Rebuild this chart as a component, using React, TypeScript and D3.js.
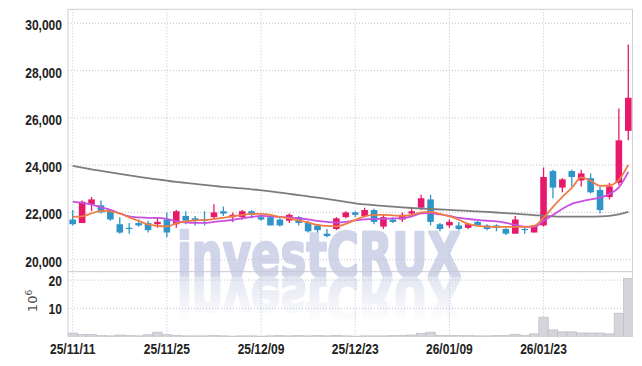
import React from 'react';
import * as d3 from 'd3';

const dates = [
  "25/11/11","25/11/12","25/11/13","25/11/14","25/11/17","25/11/18","25/11/19","25/11/20","25/11/21","25/11/24",
  "25/11/25","25/11/26","25/11/27","25/11/28","25/12/01","25/12/02","25/12/03","25/12/04","25/12/05","25/12/08",
  "25/12/09","25/12/10","25/12/11","25/12/12","25/12/15","25/12/16","25/12/17","25/12/18","25/12/19","25/12/22",
  "25/12/23","25/12/24","25/12/26","25/12/29","25/12/30","26/01/02","26/01/05","26/01/06","26/01/07","26/01/08",
  "26/01/09","26/01/12","26/01/13","26/01/14","26/01/15","26/01/16","26/01/19","26/01/20","26/01/21","26/01/22",
  "26/01/23","26/01/26","26/01/27","26/01/28","26/01/29","26/01/30","26/02/02","26/02/03","26/02/04","26/02/05"
];

const open = [
  21700,21550,22350,22300,22100,21500,21350,21550,21550,21500,
  21700,21500,21850,21750,21700,21800,22050,21800,21800,22050,
  21800,21800,21700,21650,21800,21550,21450,21100,21300,21800,
  22000,21850,22100,21400,21700,21700,21950,22200,22550,21500,
  21450,21450,21350,21600,21450,21450,21300,21100,21300,21150,
  21450,23750,23050,23750,23350,23450,22950,22650,23250,25450
];
const high = [
  22100,22500,22650,22500,22100,21800,21550,21700,21650,21800,
  22000,22100,22050,21850,22050,22350,22250,22000,22100,22100,
  21900,21850,21750,21950,21850,21650,21500,21300,21800,22050,
  22050,22200,22150,21900,21800,22000,22200,22750,22750,21550,
  21700,21600,21550,21650,21500,21500,21350,21850,21400,21450,
  23900,23800,23450,23800,23800,23650,23100,23250,26400,29100
];
const low = [
  21450,21550,22050,21950,21650,21100,21100,21400,21150,21350,
  20950,21350,21500,21450,21450,21700,21850,21600,21700,21750,
  21650,21450,21400,21550,21450,21150,21150,20950,21250,21750,
  21800,21800,21500,21300,21550,21600,21850,22100,21450,21200,
  21350,21250,21300,21400,21250,21200,21050,21100,21100,21150,
  21400,22600,22850,23100,23100,22800,21950,22550,23150,25050
];
const close = [
  21500,22450,22550,22000,21700,21150,21300,21450,21250,21600,
  21150,22050,21650,21650,21650,22000,21950,21900,22050,21900,
  21700,21450,21450,21900,21550,21200,21250,21000,21750,22000,
  21900,22100,21600,21800,21600,21900,22050,22600,21600,21300,
  21600,21300,21500,21450,21300,21350,21100,21700,21250,21450,
  23500,23050,23400,23500,23650,22850,22100,23100,25050,26850
];
// volume in millions of shares
const volume = [
  1.3,0.8,0.8,0.4,0.3,0.6,0.4,0.3,0.7,1.6,
  0.7,0.5,0.3,0.3,0.3,0.5,0.3,0.2,0.3,0.3,
  0.2,0.3,0.4,0.3,0.4,0.3,0.4,0.3,0.5,0.3,
  0.2,0.3,0.3,0.3,0.4,0.5,0.6,1.2,1.6,0.5,
  0.4,0.4,0.4,0.3,0.3,0.4,0.4,0.85,0.5,1.0,
  6.9,2.4,1.7,1.7,1.3,1.3,1.3,1.0,8.3,20.6
];
const maShort = [
  21809,21830,21957,22063,22042,21957,21788,21640,21491,21428,
  21407,21534,21619,21661,21682,21724,21767,21830,21894,21936,
  21936,21894,21809,21746,21661,21576,21470,21428,21407,21513,
  21682,21830,21894,21894,21873,21852,21894,22000,22021,21936,
  21830,21691,21513,21428,21398,21385,21385,21385,21385,21428,
  21767,22233,22657,23038,23483,23334,23123,23144,23377,24012
];
const maMid = [
  22457,22402,22339,22212,22106,21957,21830,21788,21767,21767,
  21724,21619,21576,21555,21555,21597,21640,21682,21746,21809,
  21852,21830,21809,21788,21754,21703,21640,21597,21568,21597,
  21661,21703,21724,21724,21746,21754,21830,21957,21966,21915,
  21852,21767,21724,21682,21648,21619,21555,21470,21394,21385,
  21640,21894,22148,22360,22466,22551,22623,22784,23059,23716
];
const maLong = [
  23970,23894,23822,23758,23695,23631,23568,23504,23449,23398,
  23343,23292,23250,23207,23165,23123,23080,23046,23013,22979,
  22936,22890,22839,22784,22733,22678,22623,22572,22508,22445,
  22381,22339,22305,22275,22241,22212,22186,22165,22144,22123,
  22106,22085,22063,22042,22021,21996,21970,21945,21915,21885,
  21852,21830,21822,21822,21822,21822,21830,21852,21915,22021
];
const priceTicks = [20000, 22000, 24000, 26000, 28000, 30000];
const volTicks = [10, 20];
const dateTickIdx = [0, 10, 20, 30, 40, 50];

const W = 642, H = 366;
const L = 68, R = 632.5, TOP = 9.3, SEP = 271.7, VBOT = 336.7;

const UP = '#e6196a';
const DOWN = '#2f95c9';
const TICKFONT = "'Liberation Sans','Arial',sans-serif";
const SX = 0.86;

export default function App() {
  const n = dates.length;
  const x = d3.scaleBand<number>().domain(d3.range(n)).range([L, R + 0.5]).padding(0);
  const cx = (i: number) => (x(i) as number) + x.bandwidth() / 2;
  const y = d3.scaleLinear().domain([20000, 30000]).range([259.7, 23.3]);
  const yv = d3.scaleLinear().domain([0, 20]).range([VBOT, 280.1]);
  const bw = x.bandwidth() * 0.7;

  const line = (vals: number[]) =>
    d3.line<number>().x((_, i) => cx(i)).y(v => y(v)).curve(d3.curveMonotoneX)(vals) || '';

  const wmBase = 276;

  return (
    <div style={{ position: 'absolute', left: 0, top: 0 }}>
      <svg width={W} height={H} style={{ display: 'block', background: '#fff' }}>
        <defs>
          <linearGradient id="refl" x1="0" y1="0" x2="0" y2="1">
            <stop offset="0" stopColor="#fff" stopOpacity="0.1" />
            <stop offset="0.9" stopColor="#fff" stopOpacity="1" />
          </linearGradient>
          <clipPath id="plotclip">
            <rect x={L} y={TOP} width={R - L} height={VBOT - TOP} />
          </clipPath>
        </defs>

        {/* watermark */}
        <g>
          <text x={177} y={wmBase} fontFamily="'DejaVu Sans',sans-serif" fontWeight="bold" fontSize={60}
            fill="#d0d5e9" stroke="#d0d5e9" strokeWidth={2.5} strokeLinejoin="round"
            textLength={284} lengthAdjust="spacingAndGlyphs">investCRUX</text>
          <g transform={`translate(0, ${2 * wmBase + 2}) scale(1,-1)`}>
            <text x={177} y={wmBase} fontFamily="'DejaVu Sans',sans-serif" fontWeight="bold" fontSize={60}
              fill="#e0e3f0" stroke="#e0e3f0" strokeWidth={2.5} strokeLinejoin="round"
              textLength={284} lengthAdjust="spacingAndGlyphs">investCRUX</text>
          </g>
          <rect x={170} y={wmBase + 1} width={300} height={50} fill="url(#refl)" />
        </g>

        {/* grid */}
        {priceTicks.map(t => (
          <line key={'pg' + t} x1={L} x2={R} y1={y(t)} y2={y(t)} stroke="#c4c4cc" strokeWidth={1} strokeDasharray="1,2" />
        ))}
        {volTicks.map(t => (
          <line key={'vg' + t} x1={L} x2={R} y1={yv(t)} y2={yv(t)} stroke="#c4c4cc" strokeWidth={1} strokeDasharray="1,2" />
        ))}
        {dateTickIdx.map(i => (
          <line key={'xg' + i} x1={cx(i)} x2={cx(i)} y1={TOP} y2={VBOT} stroke="#bcc4de" strokeWidth={1} strokeDasharray="1,2" />
        ))}

        {/* volume */}
        <g clipPath="url(#plotclip)">
          {volume.map((v, i) => (
            <rect key={'v' + i} x={x(i) as number} y={yv(v)} width={x.bandwidth()} height={VBOT - yv(v)}
              fill="#d4d4da" stroke="#bdbdc4" strokeWidth={0.7} />
          ))}
        </g>

        {/* frame */}
        <line x1={L} x2={R} y1={TOP} y2={TOP} stroke="#cfcfd6" strokeWidth={1} />
        <line x1={L} x2={L} y1={TOP} y2={VBOT} stroke="#cfcfd6" strokeWidth={1} />
        <line x1={R} x2={R} y1={TOP} y2={VBOT} stroke="#cfcfd6" strokeWidth={1} />
        <line x1={L} x2={R} y1={SEP} y2={SEP} stroke="#c8c8d0" strokeWidth={1} />

        {/* candles */}
        {dates.map((_, i) => {
          const up = close[i] >= open[i];
          const col = up ? UP : DOWN;
          const top = y(Math.max(open[i], close[i]));
          const bot = y(Math.min(open[i], close[i]));
          return (
            <g key={'c' + i}>
              <line x1={cx(i)} x2={cx(i)} y1={y(high[i])} y2={y(low[i])} stroke={col} strokeWidth={1.3} />
              <rect x={cx(i) - bw / 2} y={top} width={bw} height={Math.max(1.2, bot - top)} fill={col} />
            </g>
          );
        })}

        {/* moving averages */}
        <path d={line(maLong)} fill="none" stroke="#7d7d7d" strokeWidth={1.8} />
        <path d={line(maMid)} fill="none" stroke="#c84fe0" strokeWidth={1.8} />
        <path d={line(maShort)} fill="none" stroke="#ef7d46" strokeWidth={1.8} />

        {/* axis labels */}
        {priceTicks.map(t => (
          <text key={'pl' + t} transform={`translate(62,${y(t) + 7}) scale(${SX},1)`} textAnchor="end"
            fontFamily={TICKFONT} fontWeight="bold" fontSize={14} fill="#222">{d3.format(',')(t)}</text>
        ))}
        {volTicks.map(t => (
          <text key={'vl' + t} transform={`translate(62,${yv(t) + 6}) scale(${SX},1)`} textAnchor="end"
            fontFamily={TICKFONT} fontWeight="bold" fontSize={14} fill="#222">{t}</text>
        ))}
        <text transform="translate(37,301) rotate(-90)" textAnchor="middle" fontFamily="'DejaVu Sans',sans-serif"
          fontSize={13} fill="#555">10<tspan dy={-5} fontSize={9}>6</tspan></text>
        {dateTickIdx.map(i => (
          <text key={'dl' + i} transform={`translate(${cx(i)},353.5) scale(${SX},1)`} textAnchor="middle"
            fontFamily={TICKFONT} fontWeight="bold" fontSize={14} fill="#222">{dates[i]}</text>
        ))}
      </svg>
    </div>
  );
}
